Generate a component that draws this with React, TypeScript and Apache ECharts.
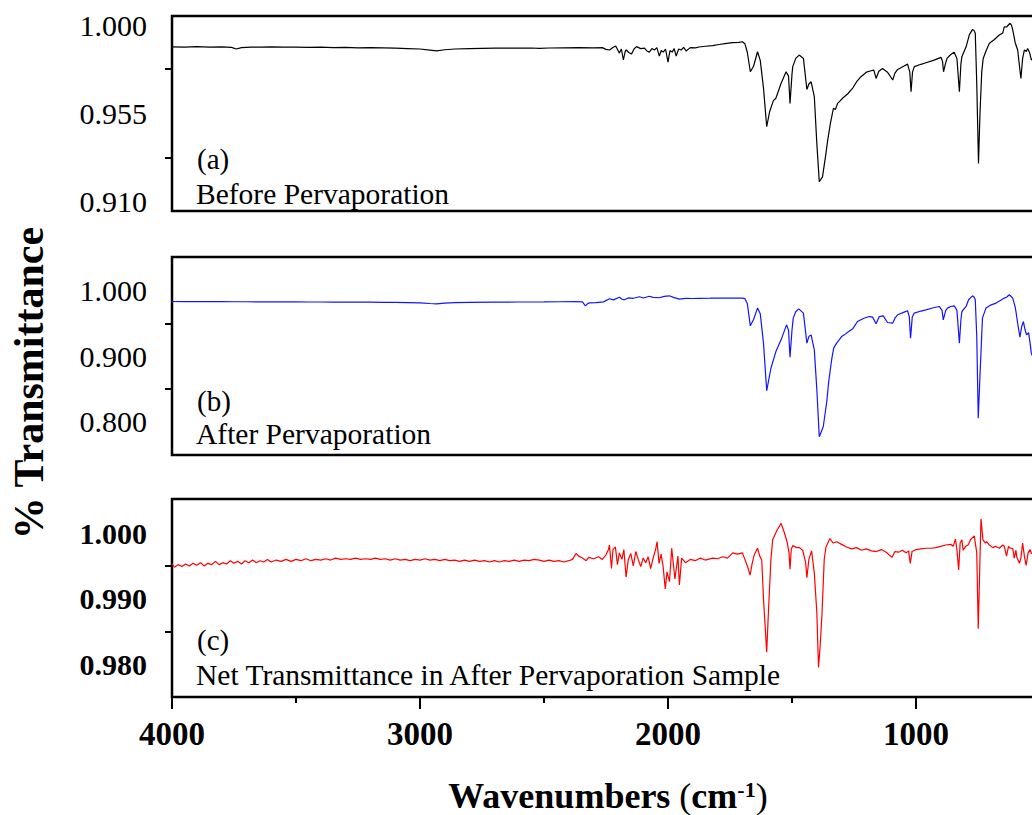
import React, { useEffect, useRef } from "react";
import * as echarts from "echarts";

const FONT = "'Liberation Serif', 'Times New Roman', Times, serif";

// x-axis (wavenumber) ticks
const xMajorTicks = [4000, 3000, 2000, 1000];

// y-axis tick values per panel
const aMajor = [0.91, 0.955, 1.0];
const aMinor = [0.9325, 0.9775];
const bMajor = [0.8, 0.9, 1.0];
const bMinor = [0.85, 0.95];
const cMajor = [0.98, 0.99, 1.0];
const cMinor = [0.985, 0.995];

// panel labels
const panelTags = ["(a)", "(b)", "(c)"];
const panelNames = [
  "Before Pervaporation",
  "After Pervaporation",
  "Net Transmittance in After Pervaporation Sample",
];

// (a) Before Pervaporation  [wavenumber, transmittance]
const spectrumA: [number, number][] = [
  [4000, 0.9889], [3950, 0.9887], [3900, 0.989], [3850, 0.9888], [3800, 0.9889], [3760, 0.9886],
  [3741, 0.9878], [3720, 0.9885], [3680, 0.9888], [3640, 0.9887], [3600, 0.9889], [3550, 0.9887],
  [3500, 0.9888], [3450, 0.9886], [3400, 0.9887], [3350, 0.9885], [3300, 0.9886], [3250, 0.9884],
  [3200, 0.9885], [3150, 0.9884], [3100, 0.9882], [3050, 0.988], [3000, 0.9878], [2960, 0.9872],
  [2933, 0.9868], [2900, 0.9874], [2860, 0.9878], [2800, 0.988], [2750, 0.9881], [2700, 0.9882],
  [2650, 0.9883], [2600, 0.9882], [2550, 0.9883], [2519, 0.9881], [2480, 0.9883], [2420, 0.9884],
  [2360, 0.9885], [2300, 0.9884], [2265, 0.9885], [2250, 0.9876], [2236, 0.9873], [2222, 0.9886],
  [2211, 0.9893], [2196, 0.9857], [2188, 0.9878], [2180, 0.9822], [2172, 0.9868], [2168, 0.9873],
  [2158, 0.986], [2147, 0.9852], [2137, 0.9878], [2127, 0.989], [2110, 0.988], [2095, 0.9882],
  [2085, 0.9868], [2075, 0.9862], [2065, 0.988], [2055, 0.9873], [2045, 0.9885], [2035, 0.9842],
  [2027, 0.987], [2019, 0.9862], [2010, 0.9878], [2000, 0.9811], [1992, 0.987], [1983, 0.9862],
  [1975, 0.988], [1967, 0.9842], [1957, 0.9878], [1947, 0.9873], [1937, 0.9886], [1927, 0.9868],
  [1910, 0.9885], [1890, 0.9884], [1875, 0.9888], [1850, 0.9892], [1820, 0.9895], [1794, 0.9901],
  [1770, 0.9905], [1740, 0.991], [1715, 0.9912], [1700, 0.9915], [1690, 0.9905], [1680, 0.986],
  [1668, 0.9762], [1655, 0.979], [1639, 0.9864], [1628, 0.982], [1615, 0.968], [1602, 0.9482],
  [1590, 0.956], [1575, 0.9615], [1565, 0.9627], [1545, 0.97], [1524, 0.9762], [1514, 0.974],
  [1508, 0.9601], [1500, 0.975], [1497, 0.9788], [1485, 0.983], [1471, 0.9847], [1454, 0.983],
  [1440, 0.9672], [1432, 0.97], [1423, 0.9711], [1410, 0.9635], [1400, 0.94], [1390, 0.9202],
  [1377, 0.9227], [1365, 0.933], [1356, 0.9414], [1345, 0.95], [1333, 0.9576], [1325, 0.957],
  [1316, 0.9601], [1305, 0.9615], [1296, 0.9627], [1275, 0.965], [1256, 0.9677], [1240, 0.971],
  [1222, 0.9737], [1200, 0.976], [1181, 0.9767], [1170, 0.977], [1161, 0.9728], [1150, 0.9765],
  [1135, 0.9779], [1115, 0.976], [1094, 0.972], [1085, 0.9755], [1074, 0.9774], [1050, 0.979],
  [1034, 0.9801], [1025, 0.976], [1020, 0.966], [1014, 0.976], [1007, 0.9788], [980, 0.98],
  [960, 0.9808], [930, 0.982], [899, 0.9835], [893, 0.9815], [889, 0.9762], [882, 0.98],
  [875, 0.983], [860, 0.985], [846, 0.9861], [835, 0.983], [825, 0.966], [819, 0.98],
  [815, 0.9839], [798, 0.9889], [785, 0.995], [772, 0.9978], [765, 0.997], [761, 0.9958],
  [755, 0.97], [748, 0.9295], [742, 0.955], [735, 0.976], [729, 0.983], [717, 0.987],
  [704, 0.9907], [685, 0.9925], [664, 0.9949], [650, 0.996], [644, 0.9991], [635, 0.999],
  [621, 1.0009], [615, 1.0], [610, 0.9975], [600, 0.991], [590, 0.9873], [580, 0.976],
  [577, 0.9728], [570, 0.983], [563, 0.9873], [555, 0.9865], [550, 0.9881], [542, 0.986],
  [535, 0.9822], [520, 0.984], [500, 0.985],
];

// (b) After Pervaporation
const spectrumB: [number, number][] = [
  [4000, 0.9836], [3950, 0.9835], [3900, 0.9836], [3850, 0.9834], [3800, 0.9833], [3750, 0.9832],
  [3700, 0.9832], [3650, 0.9831], [3600, 0.983], [3550, 0.9829], [3500, 0.9829], [3450, 0.9828],
  [3400, 0.9828], [3350, 0.9827], [3300, 0.9826], [3250, 0.9826], [3200, 0.9825], [3150, 0.9824],
  [3100, 0.9823], [3050, 0.982], [3000, 0.9815], [2960, 0.9805], [2934, 0.9801], [2900, 0.981],
  [2860, 0.9818], [2800, 0.9822], [2700, 0.9825], [2600, 0.9828], [2500, 0.983], [2438, 0.9832],
  [2380, 0.9833], [2345, 0.983], [2333, 0.977], [2325, 0.98], [2317, 0.9816], [2290, 0.982],
  [2260, 0.983], [2236, 0.9878], [2220, 0.986], [2196, 0.99], [2185, 0.987], [2176, 0.9862],
  [2160, 0.989], [2140, 0.9885], [2115, 0.9908], [2100, 0.989], [2075, 0.9916], [2060, 0.99],
  [2035, 0.9893], [2015, 0.9915], [1995, 0.9923], [1975, 0.9895], [1954, 0.9873], [1930, 0.9885],
  [1900, 0.9882], [1874, 0.9885], [1830, 0.9886], [1780, 0.9888], [1740, 0.9887], [1700, 0.9888],
  [1690, 0.988], [1680, 0.98], [1668, 0.9464], [1655, 0.956], [1639, 0.9735], [1628, 0.965],
  [1615, 0.92], [1602, 0.8473], [1585, 0.8816], [1565, 0.907], [1544, 0.925], [1522, 0.9479],
  [1514, 0.94], [1508, 0.8985], [1500, 0.94], [1495, 0.9582], [1485, 0.968], [1473, 0.9724],
  [1454, 0.9659], [1440, 0.9199], [1432, 0.93], [1423, 0.9326], [1410, 0.9097], [1400, 0.85],
  [1390, 0.7769], [1374, 0.7922], [1360, 0.83], [1352, 0.8611], [1340, 0.895], [1332, 0.9123],
  [1320, 0.92], [1312, 0.9239], [1300, 0.93], [1289, 0.9326], [1270, 0.938], [1256, 0.9414],
  [1236, 0.953], [1210, 0.958], [1188, 0.9606], [1175, 0.9597], [1161, 0.9495], [1148, 0.9606],
  [1132, 0.9617], [1115, 0.9515], [1094, 0.9505], [1085, 0.958], [1074, 0.9633], [1050, 0.967],
  [1034, 0.9694], [1027, 0.96], [1022, 0.9276], [1015, 0.96], [1007, 0.9659], [980, 0.969],
  [960, 0.9709], [930, 0.974], [906, 0.976], [895, 0.97], [890, 0.9556], [880, 0.97],
  [873, 0.9735], [860, 0.976], [846, 0.977], [835, 0.97], [825, 0.9199], [819, 0.955],
  [815, 0.9683], [798, 0.976], [788, 0.9862], [772, 0.9923], [765, 0.99], [761, 0.9862],
  [755, 0.93], [749, 0.8051], [742, 0.87], [732, 0.9582], [718, 0.9735], [700, 0.978],
  [677, 0.9812], [660, 0.985], [644, 0.9888], [635, 0.99], [624, 0.9939], [618, 0.992],
  [610, 0.9888], [600, 0.975], [597, 0.9683], [590, 0.95], [581, 0.9291], [574, 0.945],
  [567, 0.953], [560, 0.94], [554, 0.9326], [546, 0.9361], [540, 0.92], [535, 0.9046],
  [520, 0.89], [500, 0.885],
];

// (c) Net transmittance
const spectrumC: [number, number][] = [
  [4000, 0.9953], [3990, 0.9948], [3975, 0.9952], [3960, 0.9949], [3945, 0.9953], [3930, 0.995],
  [3915, 0.9954], [3900, 0.9951], [3885, 0.9955], [3870, 0.995], [3855, 0.9954], [3840, 0.9952],
  [3825, 0.9957], [3810, 0.9952], [3795, 0.9955], [3780, 0.9953], [3765, 0.9958], [3750, 0.9954],
  [3735, 0.9957], [3720, 0.9953], [3705, 0.9958], [3690, 0.9955], [3675, 0.9959], [3660, 0.9955],
  [3645, 0.9958], [3630, 0.9956], [3615, 0.996], [3600, 0.9956], [3580, 0.9959], [3560, 0.9957],
  [3540, 0.996], [3520, 0.9957], [3500, 0.996], [3480, 0.9958], [3460, 0.9961], [3440, 0.9958],
  [3420, 0.996], [3400, 0.9959], [3380, 0.9961], [3360, 0.9959], [3340, 0.9962], [3320, 0.996],
  [3300, 0.9961], [3280, 0.996], [3260, 0.9962], [3240, 0.996], [3220, 0.9961], [3200, 0.996],
  [3180, 0.9962], [3160, 0.996], [3140, 0.9961], [3120, 0.9959], [3100, 0.9961], [3080, 0.9959],
  [3060, 0.996], [3040, 0.9958], [3020, 0.996], [3000, 0.9959], [2980, 0.9961], [2960, 0.9959],
  [2940, 0.996], [2920, 0.9958], [2900, 0.996], [2880, 0.9958], [2860, 0.9959], [2840, 0.9957],
  [2820, 0.9959], [2800, 0.9957], [2780, 0.9959], [2760, 0.9957], [2740, 0.9958], [2720, 0.9956],
  [2700, 0.9958], [2680, 0.9956], [2660, 0.9958], [2640, 0.9957], [2620, 0.9959], [2600, 0.9957],
  [2580, 0.9959], [2560, 0.9958], [2540, 0.996], [2519, 0.9959], [2500, 0.9957], [2480, 0.9959],
  [2460, 0.9957], [2440, 0.9958], [2420, 0.9956], [2400, 0.9958], [2385, 0.996], [2371, 0.9969],
  [2360, 0.9965], [2345, 0.9962], [2330, 0.9958], [2320, 0.9963], [2300, 0.9961], [2280, 0.9964],
  [2265, 0.996], [2250, 0.9967], [2240, 0.9975], [2236, 0.9982], [2228, 0.9946], [2222, 0.9975],
  [2212, 0.9979], [2204, 0.9952], [2196, 0.997], [2186, 0.996], [2178, 0.9975], [2169, 0.9933],
  [2160, 0.996], [2150, 0.9969], [2140, 0.995], [2130, 0.9972], [2120, 0.996], [2110, 0.9949],
  [2100, 0.9962], [2090, 0.9955], [2080, 0.9964], [2070, 0.9946], [2060, 0.9962], [2050, 0.9975],
  [2044, 0.9987], [2036, 0.9954], [2028, 0.9968], [2020, 0.995], [2011, 0.9915], [2004, 0.9941],
  [1994, 0.9926], [1985, 0.9977], [1972, 0.993], [1960, 0.9965], [1954, 0.9921], [1945, 0.9962],
  [1930, 0.9955], [1910, 0.996], [1890, 0.9958], [1870, 0.9962], [1850, 0.9959], [1820, 0.9962],
  [1800, 0.9961], [1780, 0.9964], [1760, 0.9962], [1739, 0.997], [1720, 0.9968], [1700, 0.997],
  [1690, 0.996], [1680, 0.995], [1669, 0.9936], [1660, 0.9955], [1652, 0.9967], [1639, 0.9977],
  [1630, 0.9965], [1622, 0.9959], [1615, 0.99], [1602, 0.9818], [1595, 0.988], [1585, 0.996],
  [1578, 0.999], [1560, 1.0005], [1544, 1.0015], [1530, 1.0], [1520, 0.9987], [1512, 0.997],
  [1508, 0.9945], [1503, 0.9975], [1497, 0.9981], [1480, 0.9978], [1470, 0.9978], [1457, 0.9974],
  [1445, 0.9955], [1440, 0.9932], [1432, 0.996], [1421, 0.9973], [1410, 0.9939], [1400, 0.988],
  [1393, 0.9795], [1386, 0.983], [1379, 0.9877], [1370, 0.996], [1363, 0.9979], [1347, 0.9992],
  [1335, 0.9985], [1320, 0.9987], [1300, 0.9983], [1280, 0.9979], [1260, 0.9976], [1240, 0.9978],
  [1220, 0.9974], [1200, 0.9976], [1180, 0.9973], [1160, 0.9972], [1140, 0.9975], [1120, 0.9971],
  [1097, 0.9963], [1085, 0.9972], [1070, 0.9971], [1055, 0.9974], [1040, 0.997], [1030, 0.9973],
  [1023, 0.9954], [1016, 0.9972], [1000, 0.9975], [980, 0.9976], [960, 0.9977], [940, 0.9977],
  [920, 0.9978], [900, 0.998], [880, 0.9982], [860, 0.9983], [850, 0.998], [841, 0.9991],
  [835, 0.9975], [828, 0.9944], [822, 0.9985], [815, 0.999], [810, 0.9974], [800, 0.998],
  [790, 0.9982], [780, 0.999], [775, 0.9992], [765, 0.9996], [755, 0.997], [749, 0.9854],
  [744, 0.993], [738, 1.0022], [730, 0.999], [720, 0.9985], [715, 0.9987], [704, 0.9982],
  [690, 0.9978], [680, 0.998], [664, 0.9977], [650, 0.9982], [644, 0.998], [635, 0.9965],
  [627, 0.998], [620, 0.9977], [610, 0.9977], [604, 0.9962], [597, 0.9974], [594, 0.9964],
  [583, 0.9954], [577, 0.9962], [570, 0.9985], [563, 0.9965], [556, 0.9951], [548, 0.997],
  [540, 0.9975], [535, 0.9969], [520, 0.9972], [500, 0.997],
];

const GRID_LEFT = 172;
const GRID_WIDTH = 992;

const panels = [
  { data: spectrumA, color: "#000000", top: 16, height: 195, min: 0.9053, max: 1.0046, major: aMajor, minor: aMinor, bold: false, tagY: 159, nameY: 194 },
  { data: spectrumB, color: "#1414ff", top: 257, height: 198, min: 0.749, max: 1.0516, major: bMajor, minor: bMinor, bold: false, tagY: 401, nameY: 434 },
  { data: spectrumC, color: "#ff0000", top: 499, height: 198, min: 0.97497, max: 1.00523, major: cMajor, minor: cMinor, bold: true, tagY: 640, nameY: 675 },
];

export default function App() {
  const ref = useRef<HTMLDivElement>(null);

  useEffect(() => {
    if (!ref.current) return;
    const chart = echarts.init(ref.current, undefined, { renderer: "svg" });

    const grids = panels.map((p) => ({
      left: GRID_LEFT,
      top: p.top,
      width: GRID_WIDTH,
      height: p.height,
      containLabel: false,
      outerBoundsMode: "none",
      show: true,
      borderColor: "#000",
      borderWidth: 2.5,
      backgroundColor: "transparent",
    }));

    const xAxes = panels.map((p, i) => ({
      type: "value",
      gridIndex: i,
      min: 0,
      max: 4000,
      interval: 1000,
      inverse: true,
      show: i === 2,
      axisLine: { show: false },
      axisTick: { show: true, length: 12, lineStyle: { color: "#000", width: 2 } },
      minorTick: { show: true, splitNumber: 2, length: 6, lineStyle: { color: "#000", width: 2 } },
      axisLabel: {
        show: true,
        fontFamily: FONT,
        fontSize: 33,
        fontWeight: "bold",
        color: "#000",
        margin: 20,
        customValues: xMajorTicks,
        formatter: (v: number) => String(v),
      },
      splitLine: { show: false },
      minorSplitLine: { show: false },
    }));

    const yAxes: any[] = [];
    panels.forEach((p, i) => {
      yAxes.push({
        type: "value",
        gridIndex: i,
        min: p.min,
        max: p.max,
        position: "left",
        axisLine: { show: false },
        axisTick: { show: true, customValues: p.major, length: 12, lineStyle: { color: "#000", width: 2 } },
        axisLabel: {
          customValues: p.major,
          formatter: (v: number) => v.toFixed(3),
          fontFamily: FONT,
          fontSize: 30,
          fontWeight: p.bold ? "bold" : "normal",
          color: "#000",
          margin: 25,
        },
        splitLine: { show: false },
      });
      // minor ticks: a right-side axis shifted onto the left edge, ticks pointing outward (left)
      yAxes.push({
        type: "value",
        gridIndex: i,
        min: p.min,
        max: p.max,
        position: "right",
        offset: -GRID_WIDTH,
        axisLine: { show: false },
        axisTick: { show: true, inside: true, customValues: p.minor, length: 7, lineStyle: { color: "#000", width: 2 } },
        axisLabel: { show: false },
        splitLine: { show: false },
      });
    });

    const series = panels.map((p, i) => ({
      type: "line",
      xAxisIndex: i,
      yAxisIndex: i * 2,
      data: p.data,
      showSymbol: false,
      symbol: "none",
      silent: true,
      clip: true,
      lineStyle: { color: p.color, width: 1.2 },
      itemStyle: { color: p.color },
    }));

    const graphics: any[] = [];
    panels.forEach((p, i) => {
      graphics.push({
        type: "text",
        x: 197,
        y: p.tagY,
        style: { text: panelTags[i], fontFamily: FONT, fontSize: 29, fill: "#000", textAlign: "left", textVerticalAlign: "middle" },
      });
      graphics.push({
        type: "text",
        x: 196,
        y: p.nameY,
        style: { text: panelNames[i], fontFamily: FONT, fontSize: 29.5, fill: "#000", textAlign: "left", textVerticalAlign: "middle" },
      });
    });
    graphics.push({
      type: "text",
      x: 29,
      y: 383,
      rotation: Math.PI / 2,
      style: { text: "% Transmittance", fontFamily: FONT, fontSize: 42, fontWeight: "bold", fill: "#000", textAlign: "center", textVerticalAlign: "middle" },
    });
    graphics.push({
      type: "text",
      x: 608,
      y: 796,
      style: {
        text: "{b|Wavenumbers }{p|(}{b|cm}{s|-1}{p|)}",
        textAlign: "center",
        textVerticalAlign: "middle",
        rich: {
          b: { fontFamily: FONT, fontSize: 36, fontWeight: "bold", fill: "#000" },
          p: { fontFamily: FONT, fontSize: 36, fontWeight: "normal", fill: "#000" },
          s: { fontFamily: FONT, fontSize: 22, fontWeight: "bold", fill: "#000", verticalAlign: "top" },
        },
      },
    });

    chart.setOption({
      animation: false,
      backgroundColor: "#ffffff",
      grid: grids,
      xAxis: xAxes,
      yAxis: yAxes,
      series,
      graphic: graphics,
    });

    return () => chart.dispose();
  }, []);

  return (
    <div
      ref={ref}
      style={{ position: "fixed", left: 0, top: 0, width: 1032, height: 815, background: "#fff" }}
    />
  );
}
